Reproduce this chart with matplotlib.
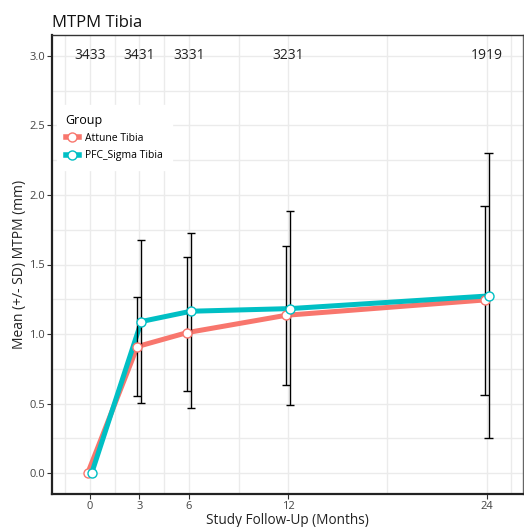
import numpy as np
import matplotlib
matplotlib.use("Agg")
import matplotlib.pyplot as plt
from matplotlib.lines import Line2D
from matplotlib.ticker import MultipleLocator, FixedLocator, FormatStrFormatter

plt.rcParams['font.family'] = ['Open Sans', 'DejaVu Sans']

# data
months = [0, 3, 6, 12, 24]
n_at_risk = ['3433', '3431', '3331', '3231', '1919']

attune_mean = [0.0, 0.91, 1.01, 1.135, 1.245]
attune_lo = [np.nan, 0.553, 0.594, 0.632, 0.56]
attune_hi = [np.nan, 1.264, 1.552, 1.631, 1.923]

pfc_mean = [0.0, 1.09, 1.164, 1.183, 1.274]
pfc_lo = [np.nan, 0.503, 0.47, 0.489, 0.254]
pfc_hi = [np.nan, 1.679, 1.727, 1.885, 2.302]

groups = ['Attune Tibia', 'PFC_Sigma Tibia']
colors = ['#F8766D', '#00BFC4']
dodge = [-0.12, 0.12]

fig = plt.figure(figsize=(5.24, 5.27), dpi=100)
ax = fig.add_axes([52/524, 1-494/527, 471/524, 459/527])

series = [(attune_mean, attune_lo, attune_hi), (pfc_mean, pfc_lo, pfc_hi)]
for (m, lo, hi), col, d in zip(series, colors, dodge):
    x = np.array(months) + d
    m = np.array(m); lo = np.array(lo); hi = np.array(hi)
    ax.plot(x, m, color=col, lw=3.6, zorder=3, solid_capstyle='butt')
    ok = ~np.isnan(lo)
    # error bars with caps
    ax.vlines(x[ok], lo[ok], hi[ok], color='black', lw=1.0, zorder=4)
    ax.hlines(lo[ok], x[ok]-0.25, x[ok]+0.25, color='black', lw=1.0, zorder=4)
    ax.hlines(hi[ok], x[ok]-0.25, x[ok]+0.25, color='black', lw=1.0, zorder=4)
    ax.plot(x, m, 'o', ms=6.5, mfc='white', mec=col, mew=1.0, zorder=5)

for mo, lab in zip(months, n_at_risk):
    ax.text(mo, 3.0, lab, ha='center', va='center', fontsize=10, color='#222222')

ax.set_xlim(-2.28, 26.2)
ax.set_ylim(-0.15, 3.15)
ax.xaxis.set_major_locator(FixedLocator(months))
ax.xaxis.set_minor_locator(FixedLocator([-1.5, 1.5, 4.5, 9, 18, 25.5]))
ax.yaxis.set_major_locator(MultipleLocator(0.5))
ax.yaxis.set_minor_locator(MultipleLocator(0.25))
ax.yaxis.set_major_formatter(FormatStrFormatter('%.1f'))

ax.grid(which='both', color='#EBEBEB', lw=1.0, zorder=0)
ax.set_axisbelow(True)
ax.tick_params(which='major', length=3.5, width=0.8, color='#333333',
               labelsize=8, labelcolor='#444444', pad=1.5)
ax.tick_params(which='minor', length=0)

for s in ['left', 'bottom']:
    ax.spines[s].set_linewidth(1.6)
    ax.spines[s].set_color('#222222')
ax.spines['top'].set_linewidth(1.0)
ax.spines['top'].set_color('#333333')
ax.spines['right'].set_linewidth(1.0)
ax.spines['right'].set_color('#666666')

fig.text(287.5/524, 1-523.5/527, 'Study Follow-Up (Months)', fontsize=9.8,
         color='#222222', ha='center', va='baseline')
ax.set_ylabel('Mean (+/- SD) MTPM (mm)', fontsize=10, color='#222222', labelpad=2)

fig.text(52/524, 1-27/527, 'MTPM Tibia', fontsize=12, color='#111111',
         ha='left', va='baseline')

handles = [Line2D([], [], color=c, lw=4, marker='o', ms=6.5, mfc='white',
                  mec=c, mew=1.0) for c in colors]
leg = ax.legend(handles, groups, title='Group', loc='upper left',
                bbox_to_anchor=(0.0, 0.858), fontsize=7.5, title_fontsize=9,
                frameon=True, fancybox=False, edgecolor='white', framealpha=1,
                handlelength=1.3, handletextpad=0.6, labelspacing=0.6,
                borderpad=0.8)
leg._legend_box.align = 'left'

fig.savefig('out.png', dpi=100)
